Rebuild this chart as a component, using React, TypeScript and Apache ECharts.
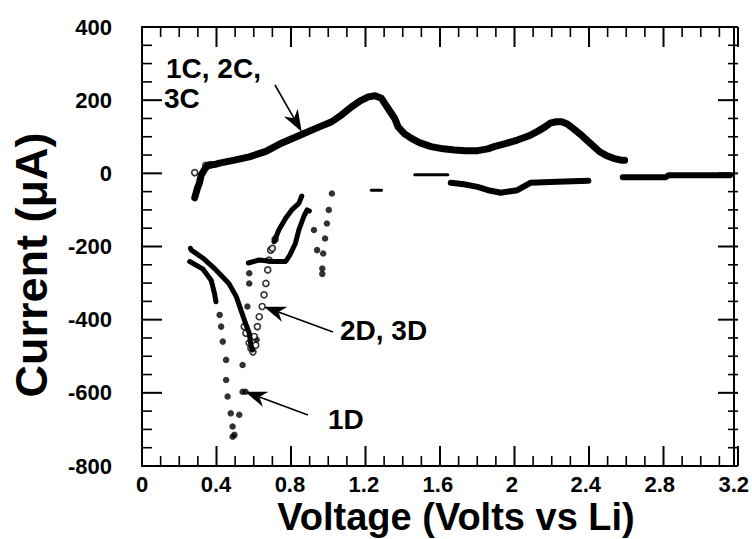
import React, { useEffect, useRef } from "react";
import * as echarts from "echarts";

// Axis ticks
const X_TICKS = [0, 0.4, 0.8, 1.2, 1.6, 2, 2.4, 2.8, 3.2];
const Y_TICKS = [-800, -600, -400, -200, 0, 200, 400];
const MINOR_SPLIT = 4;

// Anodic sweeps "1C, 2C, 3C" (Voltage, Current µA)
const anodic: [number, number][] = [
  [0.285, -67], [0.3, -40], [0.31, -27], [0.32, -5], [0.34, 12], [0.356, 22], [0.4, 25],
  [0.42, 28], [0.5, 36], [0.58, 45], [0.67, 60], [0.757, 83], [0.857, 105], [0.95, 125],
  [1.026, 141], [1.08, 160], [1.134, 182], [1.18, 198], [1.224, 209], [1.26, 212],
  [1.295, 205], [1.33, 178], [1.367, 150], [1.385, 127], [1.42, 108], [1.455, 96],
  [1.5, 84], [1.563, 73], [1.63, 67], [1.69, 64], [1.75, 62], [1.815, 62], [1.87, 67],
  [1.905, 73], [1.97, 82], [2.03, 91], [2.09, 102], [2.137, 114], [2.18, 127], [2.207, 137],
  [2.24, 141], [2.27, 141], [2.3, 135], [2.33, 123], [2.37, 107], [2.405, 91], [2.44, 75],
  [2.475, 59], [2.51, 49], [2.55, 41], [2.59, 36], [2.61, 36],
];
const anodicOpen: [number, number][] = [[0.285, 2], [0.345, 22], [0.37, 23]];

// Cathodic sweep pieces near zero current
const cathHigh: [number, number][] = [[2.6, -11], [2.83, -11], [2.85, -5], [3.18, -5]];
const cathDip: [number, number][] = [
  [1.67, -26], [1.74, -30], [1.815, -37], [1.88, -47], [1.94, -53], [2.03, -46],
  [2.1, -26], [2.245, -23], [2.414, -20],
];
const cathFlat: [number, number][] = [[1.475, -4], [1.654, -4]];
const cathSmall: [number, number][] = [[1.24, -46], [1.295, -46]];

// 2D, 3D dense traces
const denseUpper: [number, number][] = [
  [0.262, -205], [0.267, -210], [0.33, -232], [0.4, -264], [0.47, -301], [0.51, -337],
  [0.535, -374], [0.56, -410], [0.58, -437], [0.59, -474], [0.598, -483],
];
const denseLower: [number, number][] = [
  [0.258, -241], [0.33, -262], [0.374, -292], [0.392, -328], [0.4, -351],
];
const plateau: [number, number][] = [
  [0.575, -245], [0.634, -237], [0.705, -241], [0.777, -241], [0.8, -223], [0.83, -191],
  [0.848, -155], [0.875, -118], [0.893, -100], [0.905, -103],
];
const riseDense: [number, number][] = [
  [0.714, -187], [0.74, -155], [0.777, -123], [0.81, -100], [0.848, -82], [0.864, -62],
];
const openCircles: [number, number][] = [
  [0.553, -419], [0.562, -437], [0.58, -464], [0.589, -478], [0.6, -488], [0.607, -446],
  [0.615, -470], [0.624, -419], [0.634, -392], [0.65, -364], [0.66, -332], [0.67, -301],
  [0.68, -264], [0.687, -237], [0.696, -210], [0.705, -205], [0.72, -180],
];

// 1D sparse filled dots
const oneD: [number, number][] = [
  [1.027, -55], [1.01, -100], [1.0, -137], [0.99, -178], [0.98, -219], [0.975, -260],
  [0.975, -275], [0.93, -155], [0.947, -210],
  [0.42, -387], [0.428, -419], [0.437, -460], [0.455, -510], [0.455, -565], [0.463, -610],
  [0.48, -656], [0.49, -692], [0.49, -720], [0.5, -715], [0.526, -660], [0.544, -597],
  [0.56, -597], [0.544, -524], [0.57, -364], [0.58, -301], [0.58, -273], [0.62, -455],
];

// tick positions (value, isMajor) built from the tick label lists
function tickList(ticks: number[]): [number, boolean][] {
  const out: [number, boolean][] = [];
  for (let i = 0; i < ticks.length; i++) {
    out.push([ticks[i], true]);
    if (i < ticks.length - 1) {
      const step = (ticks[i + 1] - ticks[i]) / MINOR_SPLIT;
      for (let k = 1; k < MINOR_SPLIT; k++) out.push([ticks[i] + k * step, false]);
    }
  }
  return out;
}

function arrow(x1: number, y1: number, x2: number, y2: number) {
  const dx = x2 - x1, dy = y2 - y1;
  const len = Math.sqrt(dx * dx + dy * dy);
  const ux = dx / len, uy = dy / len;
  const nx = -uy, ny = ux;
  const head = 22, half = 8;
  const bx = x2 - head * ux, by = y2 - head * uy;
  const mx = x2 - 0.7 * head * ux, my = y2 - 0.7 * head * uy;
  return {
    type: "group",
    children: [
      {
        type: "line",
        shape: { x1, y1, x2: mx, y2: my },
        style: { stroke: "#000", lineWidth: 1.6 },
      },
      {
        type: "polygon",
        shape: {
          points: [
            [x2, y2],
            [bx + half * nx, by + half * ny],
            [mx, my],
            [bx - half * nx, by - half * ny],
          ],
        },
        style: { fill: "#000" },
      },
    ],
  };
}

const FONT = "'Liberation Sans', Arial, Helvetica, sans-serif";
const MAJOR_LEN = 20;
const MINOR_LEN = 10;
const GRID = { left: 142, right: 14, top: 27, bottom: 73 };
const W = 752, H = 539;

function makeAxis(kind: "x" | "y", position: string, showLabel: boolean) {
  const isX = kind === "x";
  const ticks = isX ? X_TICKS : Y_TICKS;
  return {
    type: "value",
    position,
    min: ticks[0],
    max: ticks[ticks.length - 1],
    interval: isX ? 0.4 : 200,
    axisLine: { show: true, onZero: false, lineStyle: { color: "#000", width: 2 } },
    axisTick: { show: false },
    minorTick: { show: false },
    splitLine: { show: false },
    minorSplitLine: { show: false },
    axisLabel: showLabel
      ? {
          show: true,
          margin: isX ? 7 : 30,
          color: "#000",
          fontSize: 22,
          fontWeight: "bold",
          fontFamily: FONT,
          formatter: (v: number) => {
            const t = ticks.find((k) => Math.abs(k - v) < 1e-6);
            return t === undefined ? "" : String(t);
          },
        }
      : { show: false },
  };
}

export default function App() {
  const ref = useRef<HTMLDivElement>(null);
  useEffect(() => {
    if (!ref.current) return;
    const chart = echarts.init(ref.current, undefined, { renderer: "svg", width: W, height: H });
    const lineS = (data: [number, number][], w: number) => ({
      type: "line",
      data,
      symbol: "none",
      lineStyle: { color: "#000", width: w, cap: "round", join: "round" },
      silent: true,
    });

    // Inside tick marks on all four sides, as a polyline per tick built from the tick lists
    const xMin = X_TICKS[0], xMax = X_TICKS[X_TICKS.length - 1];
    const yMin = Y_TICKS[0], yMax = Y_TICKS[Y_TICKS.length - 1];
    const pw = W - GRID.left - GRID.right;
    const ph = H - GRID.top - GRID.bottom;
    const px = (v: number) => GRID.left + ((v - xMin) / (xMax - xMin)) * pw;
    const py = (v: number) => GRID.top + ((yMax - v) / (yMax - yMin)) * ph;
    const tickEls: any[] = [];
    tickList(X_TICKS).forEach(([v, major]) => {
      const len = major ? MAJOR_LEN : MINOR_LEN;
      const x = px(v);
      tickEls.push({ type: "polyline", silent: true, z: 100, shape: { points: [[x, GRID.top + ph], [x, GRID.top + ph - len]] }, style: { stroke: "#000", lineWidth: major ? 2 : 1.6, fill: null } });
      tickEls.push({ type: "polyline", silent: true, z: 100, shape: { points: [[x, GRID.top], [x, GRID.top + len]] }, style: { stroke: "#000", lineWidth: major ? 2 : 1.6, fill: null } });
    });
    tickList(Y_TICKS).forEach(([v, major]) => {
      const len = major ? MAJOR_LEN : MINOR_LEN;
      const y = py(v);
      tickEls.push({ type: "polyline", silent: true, z: 100, shape: { points: [[GRID.left, y], [GRID.left + len, y]] }, style: { stroke: "#000", lineWidth: major ? 2 : 1.6, fill: null } });
      tickEls.push({ type: "polyline", silent: true, z: 100, shape: { points: [[GRID.left + pw, y], [GRID.left + pw - len, y]] }, style: { stroke: "#000", lineWidth: major ? 2 : 1.6, fill: null } });
    });

    chart.setOption({
      animation: false,
      backgroundColor: "#fff",
      grid: { ...GRID, containLabel: false },
      xAxis: [makeAxis("x", "bottom", true), makeAxis("x", "top", false)],
      yAxis: [makeAxis("y", "left", true), makeAxis("y", "right", false)],
      series: [
        lineS(anodic, 7),
        lineS(cathHigh, 6),
        lineS(cathDip, 6),
        lineS(cathFlat, 3),
        lineS(cathSmall, 3),
        lineS(denseUpper, 5),
        lineS(denseLower, 5),
        lineS(plateau, 5),
        lineS(riseDense, 5),
        {
          type: "scatter",
          data: oneD,
          symbol: "circle",
          symbolSize: 6.5,
          itemStyle: { color: "#000" },
          silent: true,
        },
        {
          type: "scatter",
          data: openCircles.concat(anodicOpen),
          symbol: "circle",
          symbolSize: 6,
          itemStyle: { color: "#fff", borderColor: "#000", borderWidth: 1.6 },
          silent: true,
        },
      ],
      graphic: [
        ...tickEls,
        {
          type: "text",
          x: 456,
          y: 517,
          style: {
            text: "Voltage (Volts vs Li)",
            fill: "#000",
            font: `bold 38px ${FONT}`,
            align: "center",
            verticalAlign: "middle",
          },
        },
        {
          type: "text",
          x: 31,
          y: 265,
          rotation: Math.PI / 2,
          style: {
            text: "Current (\u03BCA)",
            fill: "#000",
            font: `bold 45px ${FONT}`,
            align: "center",
            verticalAlign: "middle",
          },
        },
        {
          type: "text",
          x: 166,
          y: 68,
          style: { text: "1C, 2C,", fill: "#000", font: `bold 28px ${FONT}`, align: "left", verticalAlign: "middle" },
        },
        {
          type: "text",
          x: 164,
          y: 98,
          style: { text: "3C", fill: "#000", font: `bold 28px ${FONT}`, align: "left", verticalAlign: "middle" },
        },
        {
          type: "text",
          x: 340,
          y: 330,
          style: { text: "2D, 3D", fill: "#000", font: `bold 28px ${FONT}`, align: "left", verticalAlign: "middle" },
        },
        {
          type: "text",
          x: 328,
          y: 419,
          style: { text: "1D", fill: "#000", font: `bold 28px ${FONT}`, align: "left", verticalAlign: "middle" },
        },
        arrow(275, 85, 301.7, 131.7),
        arrow(333, 332, 264, 306.7),
        arrow(308, 415, 245, 391.7),
      ],
    });
    return () => chart.dispose();
  }, []);
  return (
    <div
      ref={ref}
      style={{ position: "absolute", left: 0, top: 0, width: W, height: H }}
    />
  );
}
